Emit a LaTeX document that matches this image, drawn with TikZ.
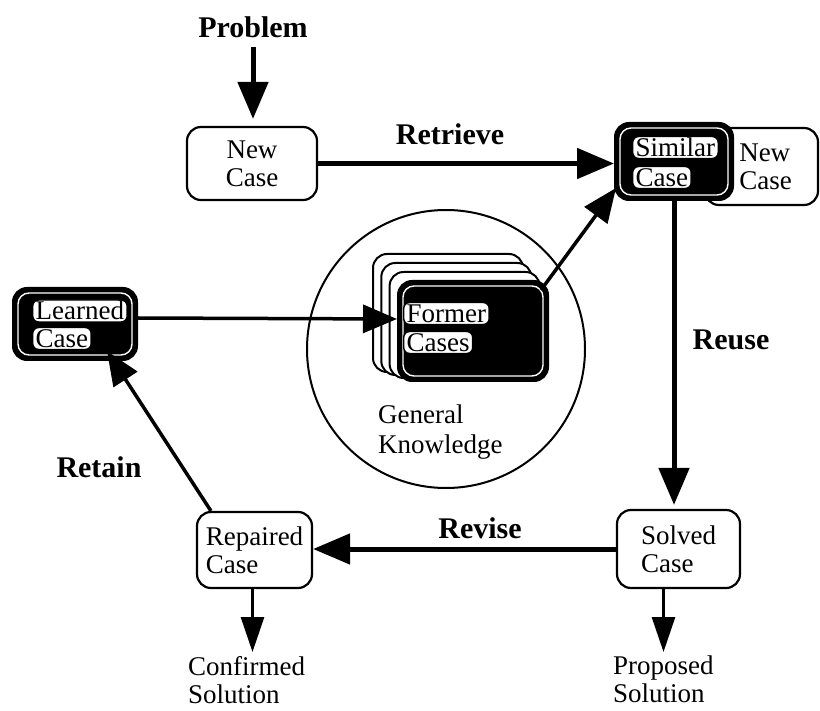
\documentclass[tikz,border=0pt]{standalone}
\usepackage{fontspec}
\setmainfont{Liberation Serif}
\usetikzlibrary{arrows.meta}
\newcommand\casefont{\fontsize{27pt}{28pt}\selectfont}
\newcommand\phasefont{\fontsize{30pt}{32pt}\selectfont\bfseries}

\begin{document}
\begin{tikzpicture}[x=1pt,y=-1pt,
  casebox/.style={draw, line width=2.2pt, rounded corners=14pt, fill=white,
                  font=\casefont, align=left, inner sep=0pt},
  darkbox/.style={draw, fill=black, line width=2pt, rounded corners=14pt, inner sep=0pt},
  darkrim/.style={draw=white, line width=1.4pt, rounded corners=11pt, inner sep=0pt},
  tag/.style={draw, line width=1.4pt, fill=white, rounded corners=6pt,
              inner xsep=3pt, inner ysep=2pt, text height=18pt, text depth=0pt,
              font=\casefont, anchor=west},
  card/.style={draw, line width=2pt, fill=white, rounded corners=14pt,
               anchor=north west, inner sep=0pt},
  phase/.style={font=\phasefont},
  outcome/.style={font=\casefont, align=left, inner sep=0pt},
  bigflow/.style={line width=5pt, -{Triangle[length=37pt,width=30pt]}},
  midflow/.style={line width=3.5pt, -{Triangle[length=34pt,width=28pt]}},
  thinflow/.style={line width=2.7pt, -{Triangle[length=35pt,width=23pt]}},
]
\useasboundingbox (0,0) rectangle (820,711);

% general knowledge around the case base
\node[draw, circle, line width=2pt, minimum size=278pt, inner sep=0pt] (knowledge) at (446,349) {};
\node[outcome, anchor=north west] (general) at (378,405) {General\\[2pt]Knowledge};

% stack of former cases
\node[card, minimum width=150pt, minimum height=118pt] (cardA) at (372,253) {};
\node[card, minimum width=150pt, minimum height=112pt] (cardB) at (380.3,262) {};
\node[card, minimum width=150pt, minimum height=106pt] (cardC) at (388.6,271) {};
\node[darkbox, anchor=north west, minimum width=150pt, minimum height=100pt] (front) at (397,280) {};
\node[darkrim, minimum width=140pt, minimum height=90pt] (frontrim) at (front) {};
\node[tag] (formerA) at (403,313.5) {Former};
\node[tag] (formerB) at (403,342.5) {Cases};

% problem and new case
\node[phase] (problem) at (253,27) {Problem};
\node[casebox, align=center, minimum width=130pt, minimum height=73pt] (newcase) at (252,163.5) {New\\Case};

% new case next to the retrieved one
\node[casebox, minimum width=113pt, minimum height=77pt] (newcopy) at (761.5,166.5) {\hspace*{8pt}New\\\hspace*{8pt}Case};

% similar case
\node[darkbox, minimum width=118pt, minimum height=77pt] (similar) at (674,161.5) {};
\node[darkrim, minimum width=108pt, minimum height=67pt] (similarrim) at (similar) {};
\node[tag] (simA) at (632,147.5) {Similar};
\node[tag] (simB) at (632,177.5) {Case};

% learned case
\node[darkbox, minimum width=124pt, minimum height=72pt] (learned) at (75,324) {};
\node[darkrim, minimum width=114pt, minimum height=62pt] (learnedrim) at (learned) {};
\node[tag] (learnA) at (32,311) {Learned};
\node[tag] (learnB) at (32,338.5) {Case};

% solved and repaired cases
\node[casebox, minimum width=123pt, minimum height=78pt] (solved) at (678.5,549) {Solved\\Case};
\node[casebox, minimum width=115pt, minimum height=76pt] (repaired) at (254.5,550) {Repaired\\Case};

% outcomes
\node[outcome, anchor=north west] (confirmed) at (188,656) {Confirmed\\Solution};
\node[outcome, anchor=north west] (proposed) at (613,656) {Proposed\\Solution};

% phase names
\node[phase] (retrieve) at (450,134) {Retrieve};
\node[phase] (reuse) at (731,340) {Reuse};
\node[phase] (revise) at (480,528) {Revise};
\node[phase] (retain) at (99,467) {Retain};

% connectors
\draw[bigflow, shorten <=6pt, shorten >=7pt] (problem) -- (problem |- newcase.north);
\draw[bigflow] (newcase.east) -- (similar.west |- newcase.east);
\draw[bigflow, shorten >=4pt] (similar.south) -- (similar.south |- solved.north);
\draw[bigflow] (solved.west) -- (repaired.east |- solved.west);
\draw[midflow] ([xshift=-8pt,yshift=-10pt]front.north east) -- ([xshift=2pt,yshift=13pt]similar.south west);
\draw[midflow] ([yshift=6pt]learned.east) -- ([yshift=12pt]front.west);
\draw[midflow] ([xshift=15pt]repaired.north west) -- ([xshift=32pt,yshift=10pt]learned.south);
\draw[thinflow, shorten >=4pt] ([xshift=-2pt]repaired.south) -- ([xshift=-2pt]repaired.south |- confirmed.north);
\draw[thinflow, shorten >=4pt] ([xshift=-15pt]solved.south) -- ([xshift=-15pt]solved.south |- proposed.north);
\end{tikzpicture}
\end{document}
